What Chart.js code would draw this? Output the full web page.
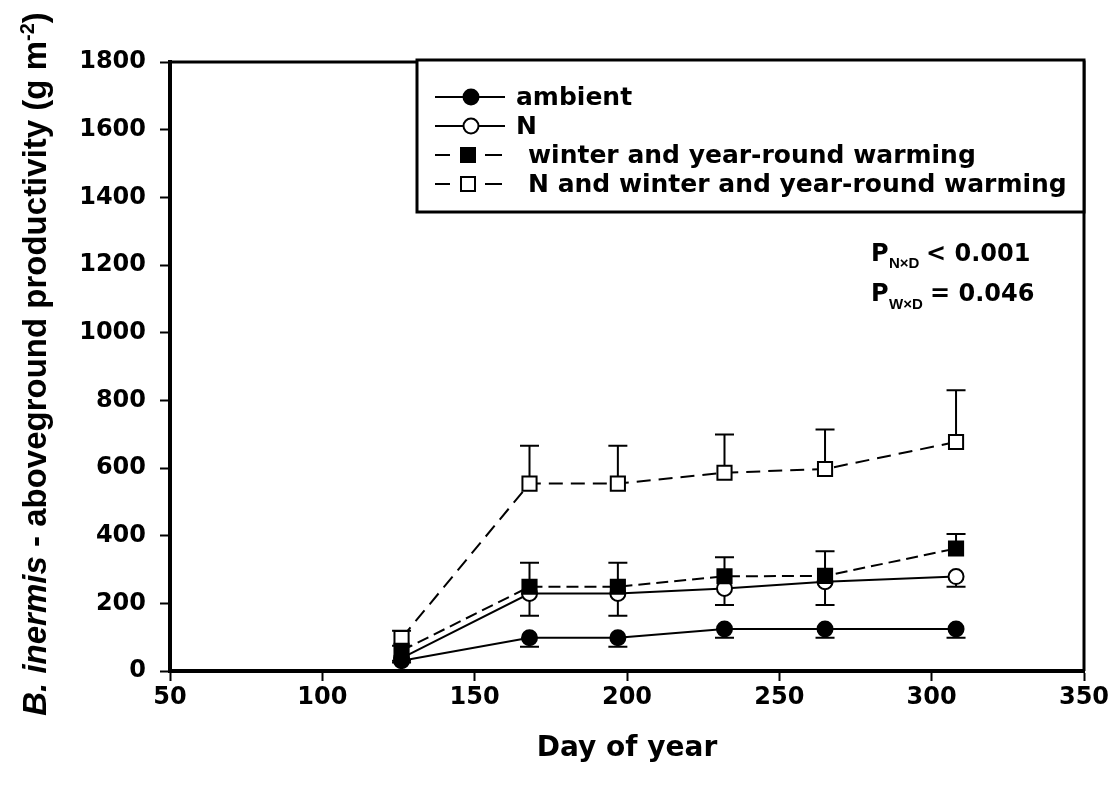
<!DOCTYPE html>
<html>
<head>
<meta charset="utf-8">
<script src="https://cdn.jsdelivr.net/npm/chart.js@4.4.0/dist/chart.umd.min.js"></script>
<style>
  html, body { margin: 0; padding: 0; background: #fff; }
  canvas { display: block; }
</style>
</head>
<body>
<canvas id="productivityChart" width="1113" height="787"></canvas>
<script>
// Day of year of each harvest
const days = [126, 168, 197, 232, 265, 308];

// Mean aboveground productivity (g m-2) and error bars
const ambient = [30, 98, 98, 124, 124, 124];
const ambientErr = [5, 26, 26, 26, 26, 26];
const nitrogen = [38, 229, 229, 244, 264, 279];
const nitrogenErr = [8, 66, 66, 49, 69, 30];
const warming = [60, 249, 249, 280, 281, 362];
const warmingErr = [15, 71, 71, 56, 73, 43];
const nWarming = [97, 554, 554, 586, 597, 677];
const nWarmingErr = [22, 112, 112, 113, 117, 153];

const seriesLabels = ['ambient', 'N', 'winter and year-round warming', 'N and winter and year-round warming'];

const TICK_FONT = { family: 'DejaVu Sans', weight: 'bold', size: 24 };

function toPoints(values) {
    return values.map((v, i) => ({ x: days[i], y: v }));
}

// error bars, drawn before the markers so the markers sit on top
const errorBars = {
    id: 'errorBars',
    beforeDatasetsDraw(chart) {
        const ctx = chart.ctx;
        const xs = chart.scales.x;
        const ys = chart.scales.y;
        ctx.save();
        ctx.strokeStyle = '#000';
        ctx.lineWidth = 2;
        ctx.setLineDash([]);
        chart.data.datasets.forEach(ds => {
            ds.data.forEach((p, i) => {
                const px = xs.getPixelForValue(p.x);
                const y0 = ys.getPixelForValue(p.y);
                const y1 = ys.getPixelForValue(p.y + ds.errSign * ds.err[i]);
                ctx.beginPath();
                ctx.moveTo(px, y0);
                ctx.lineTo(px, y1);
                ctx.moveTo(px - 9.5, y1);
                ctx.lineTo(px + 9.5, y1);
                ctx.stroke();
            });
        });
        ctx.restore();
    }
};

function drawMarker(ctx, style, filled, x, y) {
    ctx.save();
    ctx.setLineDash([]);
    ctx.lineWidth = 2;
    ctx.strokeStyle = '#000';
    ctx.fillStyle = filled ? '#000' : '#fff';
    ctx.beginPath();
    if (style === 'circle') {
        ctx.arc(x, y, 7.5, 0, Math.PI * 2);
    } else {
        ctx.rect(x - 7, y - 7, 14, 14);
    }
    ctx.fill();
    ctx.stroke();
    ctx.restore();
}

// frame, legend, statistics and axis titles
const decorations = {
    id: 'decorations',
    afterDraw(chart) {
        const ctx = chart.ctx;
        const area = chart.chartArea;
        ctx.save();

        // top and right frame lines
        ctx.strokeStyle = '#000';
        ctx.lineWidth = 3;
        ctx.beginPath();
        ctx.moveTo(area.left, area.top);
        ctx.lineTo(area.right, area.top);
        ctx.lineTo(area.right, area.bottom);
        ctx.stroke();

        // legend box
        const boxLeft = 417, boxTop = 60, boxBottom = 212;
        ctx.fillStyle = '#fff';
        ctx.fillRect(boxLeft, boxTop, area.right - boxLeft, boxBottom - boxTop);
        ctx.lineWidth = 3;
        ctx.strokeRect(boxLeft, boxTop, area.right - boxLeft, boxBottom - boxTop);

        const rows = [97, 126, 155, 184];
        ctx.font = 'bold 25px "DejaVu Sans"';
        ctx.textBaseline = 'middle';
        ctx.fillStyle = '#000';
        chart.data.datasets.forEach((ds, i) => {
            const y = rows[i];
            ctx.lineWidth = 2;
            ctx.setLineDash([]);
            ctx.beginPath();
            if (ds.borderDash.length) {
                ctx.moveTo(435, y); ctx.lineTo(450, y);
                ctx.moveTo(485, y); ctx.lineTo(502, y);
            } else {
                ctx.moveTo(435, y); ctx.lineTo(505, y);
            }
            ctx.stroke();
            const filled = ds.pointBackgroundColor === '#000';
            drawMarker(ctx, ds.pointStyle, filled, ds.borderDash.length ? 468 : 471, y);
            ctx.fillStyle = '#000';
            ctx.fillText(ds.label, ds.borderDash.length ? 528 : 516, y + 1);
        });

        // statistics
        ctx.textBaseline = 'alphabetic';
        ctx.font = 'bold 24px "DejaVu Sans"';
        ctx.fillText('P', 871, 261);
        ctx.fillText('P', 871, 301);
        ctx.font = 'bold 15px "Liberation Sans"';
        ctx.fillText('N×D', 889, 268);
        ctx.fillText('W×D', 889, 309);
        ctx.font = 'bold 24px "DejaVu Sans"';
        ctx.fillText('< 0.001', 926, 261);
        ctx.fillText('= 0.046', 930, 301);

        // x axis title
        ctx.font = 'bold 28px "DejaVu Sans"';
        ctx.textAlign = 'center';
        ctx.fillText('Day of year', (area.left + area.right) / 2, 756);

        // y axis title with italic species name and superscript
        const parts = [
            { t: 'B. inermis', f: 'italic bold 33px "Liberation Sans"', dy: 0 },
            { t: ' - aboveground productivity (g m', f: 'bold 33px "Liberation Sans"', dy: 0 },
            { t: '-2', f: 'bold 20px "Liberation Sans"', dy: -12 },
            { t: ')', f: 'bold 33px "Liberation Sans"', dy: 0 }
        ];
        let total = 0;
        parts.forEach(p => { ctx.font = p.f; p.w = ctx.measureText(p.t).width; total += p.w; });
        ctx.translate(46, 364);
        ctx.rotate(-Math.PI / 2);
        ctx.textAlign = 'left';
        let pos = -total / 2;
        parts.forEach(p => {
            ctx.font = p.f;
            ctx.fillText(p.t, pos, p.dy);
            pos += p.w;
        });
        ctx.restore();
    }
};

document.addEventListener('DOMContentLoaded', function() {
    const datasets = [
        { label: seriesLabels[0], data: toPoints(ambient), err: ambientErr, errSign: -1,
          pointStyle: 'circle', pointRadius: 7.5, pointBackgroundColor: '#000', borderDash: [], order: 1 },
        { label: seriesLabels[1], data: toPoints(nitrogen), err: nitrogenErr, errSign: -1,
          pointStyle: 'circle', pointRadius: 7.5, pointBackgroundColor: '#fff', borderDash: [], order: 3 },
        { label: seriesLabels[2], data: toPoints(warming), err: warmingErr, errSign: 1,
          pointStyle: 'rect', pointRadius: 10, pointBackgroundColor: '#000', borderDash: [12, 6], order: 2 },
        { label: seriesLabels[3], data: toPoints(nWarming), err: nWarmingErr, errSign: 1,
          pointStyle: 'rect', pointRadius: 10, pointBackgroundColor: '#fff', borderDash: [14, 8], order: 4 }
    ].map(ds => Object.assign({
        borderColor: '#000',
        borderWidth: 2,
        pointBorderColor: '#000',
        pointBorderWidth: 2,
        tension: 0,
        fill: false
    }, ds));

    const ctx = document.getElementById('productivityChart').getContext('2d');
    new Chart(ctx, {
        type: 'line',
        data: { datasets },
        options: {
            responsive: false,
            animation: false,
            devicePixelRatio: 1,
            layout: { padding: { top: 62, right: 29, left: 0, bottom: 0 } },
            plugins: { legend: { display: false }, tooltip: { enabled: false } },
            scales: {
                x: {
                    type: 'linear',
                    min: 50, max: 350,
                    ticks: { stepSize: 50, color: '#000', font: TICK_FONT, padding: 2, maxRotation: 0,
                             callback: v => String(v) },
                    grid: { drawOnChartArea: false, drawTicks: true, tickLength: 10, tickWidth: 2, tickColor: '#000' },
                    border: { display: true, color: '#000', width: 4 },
                    afterFit(scale) { scale.height = 116; }
                },
                y: {
                    min: 0, max: 1800,
                    ticks: { stepSize: 200, color: '#000', font: TICK_FONT, padding: 14,
                             callback: v => String(v) },
                    grid: { drawOnChartArea: false, drawTicks: true, tickLength: 10, tickWidth: 2, tickColor: '#000' },
                    border: { display: true, color: '#000', width: 4 },
                    afterFit(scale) { scale.width = 170; }
                }
            }
        },
        plugins: [errorBars, decorations]
    });
});
</script>
</body>
</html>
